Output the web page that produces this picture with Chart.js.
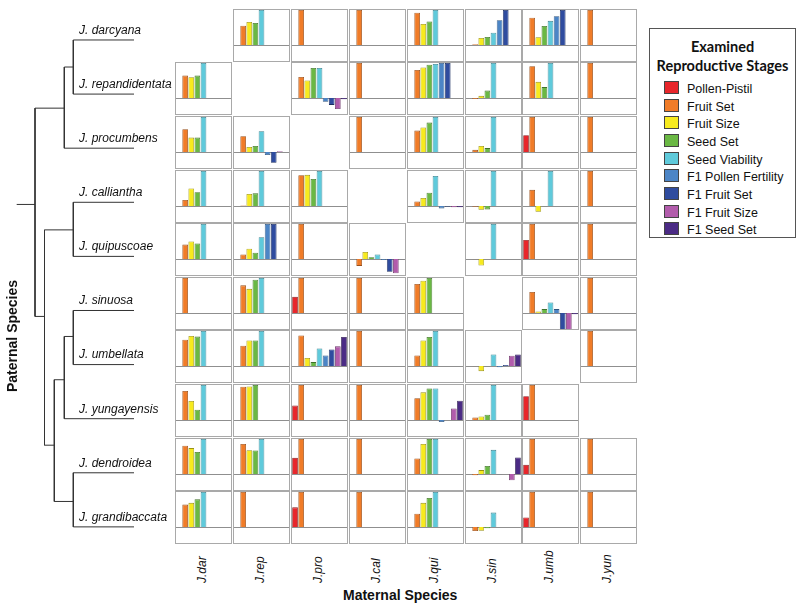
<!DOCTYPE html>
<html>
<head>
<meta charset="utf-8">
<script src="https://cdn.jsdelivr.net/npm/chart.js@4.4.1/dist/chart.umd.min.js"></script>
<style>
  html, body { margin: 0; padding: 0; background: #fff; }
  body { position: relative; width: 800px; height: 610px; overflow: hidden; font-family: "Liberation Sans", Arial, sans-serif; color: #111; }
  canvas { position: absolute; }
  .colLabel { position: absolute; font-style: italic; font-size: 12px; white-space: nowrap; transform-origin: 0 0; transform: rotate(-90deg); line-height: 14px; }
  .axisTitle { position: absolute; font-weight: bold; font-size: 14px; white-space: nowrap; }
  #legend { position: absolute; left: 649px; top: 28px; width: 145px; height: 208px; border: 1px solid #555; background: #fff; }
  #legend .title { font-family: Lato, "Open Sans", sans-serif; font-weight: 700; font-size: 14.5px; text-align: center; line-height: 19px; margin-top: 8px; }
  #legend .item { position: absolute; left: 14px; font-size: 12.5px; line-height: 14px; white-space: nowrap; }
  #legend .sw { display: inline-block; width: 13px; height: 11px; vertical-align: -1px; margin-right: 8px; border: 1px solid #444; }
</style>
</head>
<body>
<script>
// reproductive stages (bar order inside every small chart)
const stages = ['Pollen-Pistil', 'Fruit Set', 'Fruit Size', 'Seed Set', 'Seed Viability',
                'F1 Pollen Fertility', 'F1 Fruit Set', 'F1 Fruit Size', 'F1 Seed Set'];
const stageColors = ['#e8262b', '#f07c28', '#f7ea1e', '#6ab844', '#5fcadb', '#4c85c6', '#2f4c9f', '#b25cac', '#4b2b85'];
const stageEdges = ['#8e1a1c', '#99501c', '#9a9215', '#40712a', '#3b7f8a', '#2f547d', '#1b2d5f', '#6d376a', '#2b184f'];

const maternal = ['J.dar', 'J.rep', 'J.pro', 'J.cal', 'J.qui', 'J.sin', 'J.umb', 'J.yun'];
const paternal = ['J. darcyana', 'J. repandidentata', 'J. procumbens', 'J. calliantha', 'J. quipuscoae',
                  'J. sinuosa', 'J. umbellata', 'J. yungayensis', 'J. dendroidea', 'J. grandibaccata'];

// one list per paternal species, one entry per maternal species (null = cross not made)
const darcyana = [
  null,
  [0, 0.55, 0.66, 0.63, 1.0],
  [0, 1.0],
  [0, 1.0],
  [0, 0.92, 0.60, 0.67, 1.0],
  [0, 0.02, 0.20, 0.23, 0.35, 0.71, 1.0],
  [0, 0.78, 0.22, 0.54, 0.69, 0.82, 1.0],
  [0, 1.0]
];
const repandidentata = [
  [0, 0.64, 0.59, 0.64, 1.0],
  null,
  [0, 0.60, 0.50, 0.86, 0.86, -0.11, -0.20, -0.32, -0.04],
  [0, 1.0],
  [0, 0.80, 0.87, 0.95, 0.97, 1.0, 1.0],
  [0, -0.03, 0.06, 0.21, 1.0],
  [0, 0.91, 0.46, 0.31, 1.0],
  [0, 1.0]
];
const procumbens = [
  [0, 0.65, 0.41, 0.41, 1.0],
  [0, 0.45, 0.14, 0.17, 0.59, -0.09, -0.31, 0.02, 0],
  null,
  [0, 1.0],
  [0, 0.61, 0.70, 0.84, 1.0],
  [0, 0.06, 0.17, 0.11, 1.0],
  [0.48, 1.0],
  [0, 1.0]
];
const calliantha = [
  [0, 0.17, 0.50, 0.39, 1.0],
  [0, 0.01, 0.34, 0.36, 1.0],
  [0, 0.88, 0.89, 0.77, 1.0],
  null,
  [0, 0.13, 0.23, 0.38, 0.86, -0.07, -0.02, -0.04, -0.04],
  [0, -0.02, -0.11, -0.10, 1.0],
  [0, 0.46, -0.17, -0.01, 1.0],
  [0, 1.0]
];
const quipuscoae = [
  [0, 0.41, 0.50, 0.44, 1.0],
  [0, 0.13, 0.29, 0.18, 0.62, 1.0, 1.0],
  [0, 1.0],
  [0, -0.20, 0.20, 0.05, 0.13, -0.03, -0.37, -0.41, -0.01],
  null,
  [0, -0.01, -0.19, 0, 1.0],
  [0.54, 1.0],
  [0, 1.0]
];
const sinuosa = [
  [0, 1.0],
  [0, 0.79, 0.69, 0.95, 1.0],
  [0.46, 1.0],
  [0, 1.0],
  [0, 0.83, 0.92, 1.0],
  null,
  [0, 0.60, 0.04, 0.11, 0.30, 0.11, -0.5, -0.5, -0.04],
  [0, 1.0]
];
const umbellata = [
  [0, 0.75, 0.86, 0.84, 1.0],
  [0, 0.58, 0.73, 0.73, 1.0],
  [0, 0.87, 0.23, 0.11, 0.50, 0.30, 0.47, 0.56, 0.83],
  [0, 1.0],
  [0, 0.30, 0.73, 0.83, 1.0],
  [0, -0.01, -0.15, -0.01, 0.33, -0.04, 0.03, 0.29, 0.33],
  null,
  [0, 1.0]
];
const yungayensis = [
  [0, 0.83, 0.54, 0.29, 1.0],
  [0, 0.95, 0.96, 1.0],
  [0.41, 1.0],
  [0, 1.0],
  [0, 0.62, 0.79, 0.90, 0.90, -0.06, 0, 0.33, 0.55],
  [0, 0.07, 0.10, 0.15, 1.0],
  [0.68, 1.0],
  null
];
const dendroidea = [
  [0, 0.81, 0.74, 0.63, 1.0],
  [0, 0.86, 0.68, 0.67, 1.0],
  [0.46, 1.0],
  [0, 1.0],
  [0, 0.44, 0.86, 1.0, 1.0],
  [0, -0.04, 0.11, 0.23, 0.69, -0.01, 0, -0.18, 0.47],
  [0.26, 1.0],
  [0, 1.0]
];
const grandibaccata = [
  [0, 0.64, 0.69, 0.79, 1.0],
  [0, 1.0],
  [0.56, 1.0],
  [0, 1.0],
  [0, 0.38, 0.69, 0.83, 1.0],
  [0, -0.12, -0.11, -0.04, 0.41],
  [0.27, 1.0],
  [0, 1.0]
];
const crossRows = [darcyana, repandidentata, procumbens, calliantha, quipuscoae,
                   sinuosa, umbellata, yungayensis, dendroidea, grandibaccata];

// dendrogram: leaves are the paternal rows (height 0); [child, child, merge height, row position]
const clades = {
  c1: ['L0', 'L1', 6.07, 0.50],
  c2: ['c1', 'L2', 6.97, 1.26],
  c3: ['L3', 'L4', 6.07, 3.51],
  c4: ['L5', 'L6', 6.07, 5.48],
  c5: ['c4', 'L7', 6.97, 6.28],
  c6: ['L8', 'L9', 6.07, 8.53],
  c7: ['c5', 'c6', 7.97, 7.49],
  c8: ['c3', 'c7', 8.95, 5.11],
  root: ['c2', 'c8', 9.90, 3.04]
};
const rootStem = 11.73;

// ---------- layout ----------
const colLeft = i => Math.round(175.2 + 57.86 * i);
const rowTop = j => Math.round(8.8 + 53.6 * j);
const cellW = 58, cellH = 54;

function addCanvas(left, top, w, h) {
  const c = document.createElement('canvas');
  c.width = w; c.height = h;
  c.style.left = left + 'px'; c.style.top = top + 'px';
  c.style.width = w + 'px'; c.style.height = h + 'px';
  document.body.appendChild(c);
  return c;
}

const cellFrame = {
  id: 'cellFrame',
  beforeDatasetsDraw(chart) {
    const { ctx, chartArea: a, scales } = chart;
    const y0 = Math.round(scales.y.getPixelForValue(0)) + 0.5;
    ctx.save();
    ctx.strokeStyle = '#8f8f8f';
    ctx.lineWidth = 1;
    ctx.beginPath();
    ctx.moveTo(a.left, y0);
    ctx.lineTo(a.right, y0);
    ctx.stroke();
    ctx.restore();
  },
  afterDraw(chart) {
    const { ctx, chartArea: a } = chart;
    ctx.save();
    ctx.strokeStyle = '#a9a9a9';
    ctx.lineWidth = 1;
    ctx.strokeRect(a.left - 0.5, a.top - 0.5, a.right - a.left + 1, a.bottom - a.top + 1);
    ctx.restore();
  }
};

function makeCell(canvas, values) {
  const data = stages.map((s, k) => (values[k] === undefined ? null : values[k]));
  return new Chart(canvas, {
    type: 'bar',
    data: {
      labels: stages,
      datasets: [{
        data: data,
        backgroundColor: stageColors,
        borderColor: stageEdges,
        borderWidth: 0.8,
        borderSkipped: 'start',
        categoryPercentage: 0.93,
        barPercentage: 1.0
      }]
    },
    options: {
      responsive: false,
      animation: false,
      events: [],
      layout: { padding: 1 },
      plugins: { legend: { display: false }, tooltip: { enabled: false } },
      scales: {
        x: { display: false },
        y: { display: false, min: -0.46, max: 1 }
      }
    },
    plugins: [cellFrame]
  });
}

crossRows.forEach((row, j) => {
  row.forEach((cell, i) => {
    if (!cell) return;
    makeCell(addCanvas(colLeft(i), rowTop(j), cellW - 1, cellH - 1), cell);
  });
});

// ---------- dendrogram ----------
function nodeInfo(id) {
  if (id[0] === 'L') return { h: 0, pos: Number(id.slice(1)) };
  return { h: clades[id][2], pos: clades[id][3] };
}
const treeSets = Object.keys(clades).map(id => {
  const [a, b, h, pos] = clades[id];
  const na = nodeInfo(a), nb = nodeInfo(b);
  return {
    data: [{ x: na.h, y: na.pos }, { x: h, y: na.pos }, { x: h, y: nb.pos }, { x: nb.h, y: nb.pos }]
  };
});
treeSets.push({ data: [{ x: clades.root[2], y: clades.root[3] }, { x: rootStem, y: clades.root[3] }] });

const leafLabels = {
  id: 'leafLabels',
  afterDraw(chart) {
    const { ctx, scales } = chart;
    ctx.save();
    ctx.font = 'italic 12px "Liberation Sans", Arial, sans-serif';
    ctx.fillStyle = '#111';
    ctx.textBaseline = 'middle';
    paternal.forEach((name, i) => {
      ctx.fillText(name, scales.x.getPixelForValue(5.5), scales.y.getPixelForValue(i) - 9.5);
    });
    ctx.restore();
  }
};

new Chart(addCanvas(0, 0, 175, 560), {
  type: 'scatter',
  data: {
    datasets: treeSets.map(d => ({
      data: d.data,
      showLine: true,
      borderColor: '#333',
      borderWidth: 1,
      pointRadius: 0,
      tension: 0
    }))
  },
  options: {
    responsive: false,
    animation: false,
    events: [],
    layout: { padding: 0 },
    plugins: { legend: { display: false }, tooltip: { enabled: false } },
    scales: {
      x: { display: false, type: 'linear', min: -4.1, max: 13.4, reverse: true },
      y: { display: false, type: 'linear', min: -0.739, max: 9.612, reverse: true }
    }
  },
  plugins: [leafLabels]
});

// ---------- axis texts ----------
maternal.forEach((name, i) => {
  const d = document.createElement('div');
  d.className = 'colLabel';
  d.textContent = name;
  d.style.left = (colLeft(i) + 20) + 'px';
  d.style.top = '583px';
  document.body.appendChild(d);
});

const mt = document.createElement('div');
mt.className = 'axisTitle';
mt.textContent = 'Maternal Species';
mt.style.left = '343px';
mt.style.top = '587px';
document.body.appendChild(mt);

const pt = document.createElement('div');
pt.className = 'axisTitle';
pt.textContent = 'Paternal Species';
pt.style.transformOrigin = '0 0';
pt.style.transform = 'rotate(-90deg)';
pt.style.left = '4px';
pt.style.top = '392px';
document.body.appendChild(pt);

// ---------- legend ----------
const lg = document.createElement('div');
lg.id = 'legend';
lg.innerHTML = '<div class="title">Examined<br>Reproductive Stages</div>';
stages.forEach((s, k) => {
  const it = document.createElement('div');
  it.className = 'item';
  it.style.top = (52 + 17.65 * k) + 'px';
  it.innerHTML = '<span class="sw" style="background:' + stageColors[k] + '"></span>' + s;
  lg.appendChild(it);
});
document.body.appendChild(lg);
</script>
</body>
</html>
